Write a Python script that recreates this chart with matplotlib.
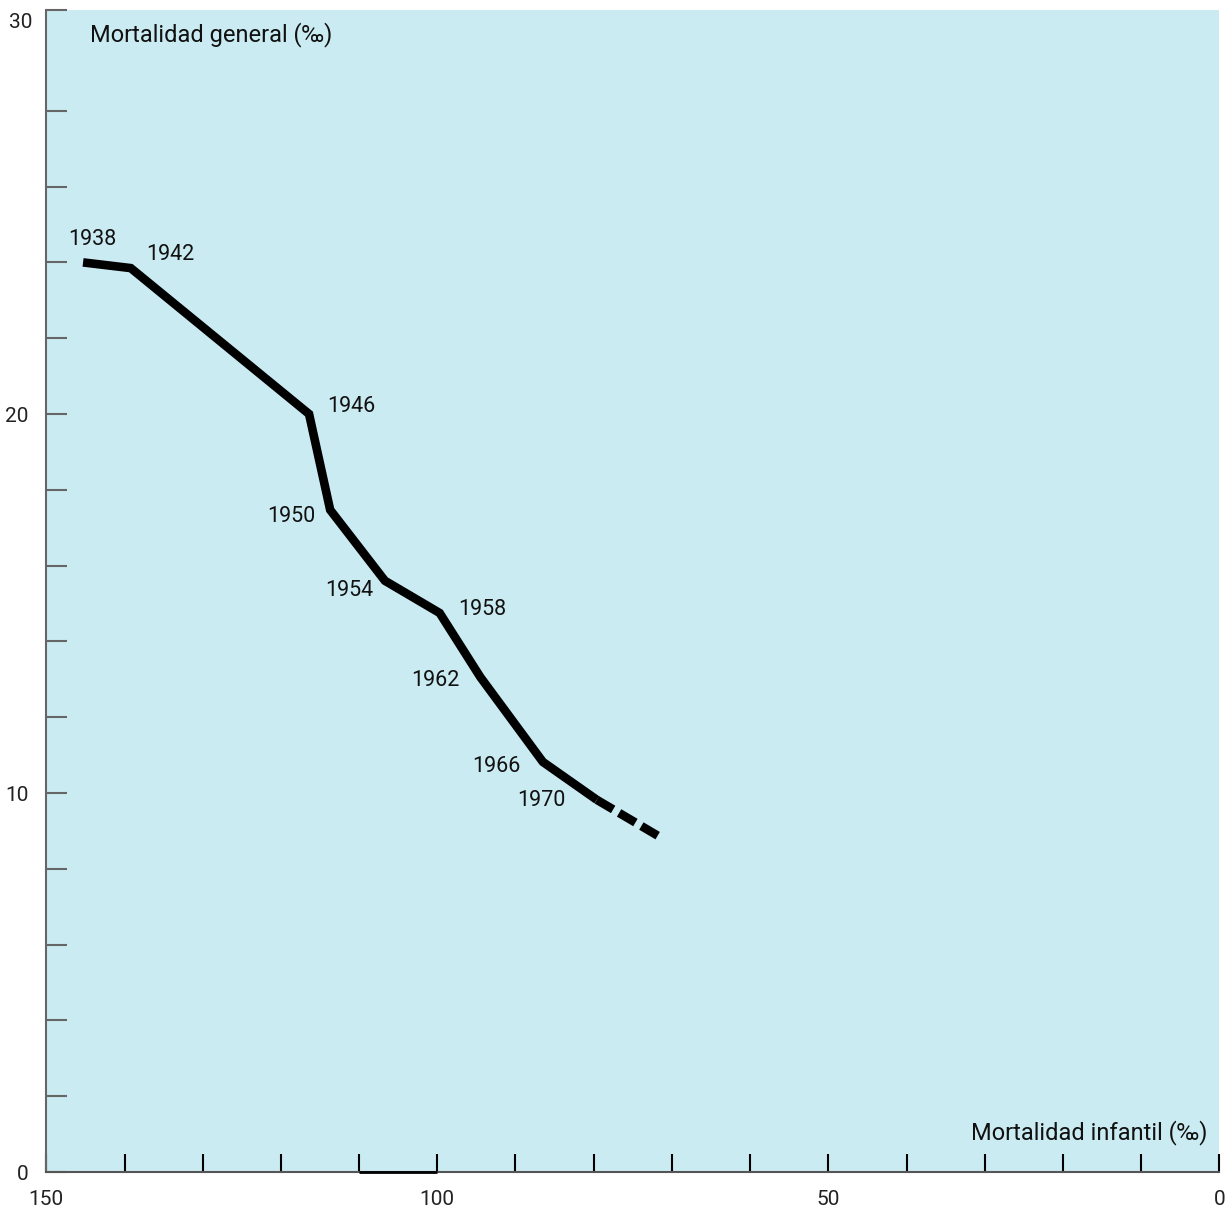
import numpy as np
import matplotlib.pyplot as plt

# datos
anios = ['1938', '1942', '1946', '1950', '1954', '1958', '1962', '1966', '1970']
mort_infantil = [145.3, 139.2, 116.4, 113.7, 106.7, 99.7, 94.5, 86.5, 79.6]
mort_general = [24.0, 23.85, 20.0, 17.47, 15.6, 14.75, 13.06, 10.82, 9.82]
# tramo proyectado (discontinuo)
proy_infantil = [79.6, 71.2]
proy_general = [9.82, 8.8]
# posicion de las etiquetas de anio
etiq_x = [144.1, 134.2, 111.0, 118.7, 111.3, 94.3, 100.2, 92.5, 86.7]
etiq_y = [24.6, 24.2, 20.2, 17.3, 15.33, 14.83, 12.98, 10.71, 9.79]

fondo = '#cbebf2'
plt.rcParams['font.family'] = ['Roboto', 'DejaVu Sans']

W, H = 1228, 1207
fig = plt.figure(figsize=(W / 100, H / 100), dpi=100)
ax = fig.add_axes([46.3 / W, (H - 1172) / H, (1219.3 - 46.3) / W, (1172 - 10) / H])
ax.set_facecolor(fondo)

ytop = 30.66
ax.set_xlim(150, 0)
ax.set_ylim(0, ytop)

ax.plot(mort_infantil, mort_general, color='black', lw=6.2,
        solid_joinstyle='miter', solid_capstyle='butt')
ax.plot(proy_infantil, proy_general, color='black', lw=6.2,
        dashes=[2.2, 0.8], dash_capstyle='butt')

for t, x, y in zip(anios, etiq_x, etiq_y):
    ax.text(x, y, t, fontsize=15.5, ha='center', va='center', color='#111')

# ejes
for s in ['top', 'right']:
    ax.spines[s].set_visible(False)
ax.spines['left'].set_color('#666')
ax.spines['bottom'].set_color('#555')
ax.spines['left'].set_linewidth(1.5)
ax.spines['bottom'].set_linewidth(1.5)
ax.plot([110, 100], [0, 0], color='black', lw=2.0, clip_on=False,
        solid_capstyle='butt', zorder=5)

xt = np.arange(150, -1, -10)
ax.set_xticks(xt)
ax.set_xticklabels([str(v) if v % 50 == 0 else '' for v in xt])
ax.tick_params(axis='x', direction='in', length=13, width=1.5, color='black',
               pad=13, labelsize=15, labelcolor='#222')

yt = list(np.arange(0, 29, 2)) + [ytop]
ax.set_yticks(yt)
ax.set_yticklabels(['0' if v == 0 else '10' if v == 10 else '20' if v == 20 else ''
                    for v in yt])
ax.tick_params(axis='y', direction='in', length=15, width=1.5, color='#666',
               pad=13, labelsize=15, labelcolor='#222')
ax.text(-0.0115, 30.34, '30', transform=ax.get_yaxis_transform(),
        ha='right', va='center', fontsize=15, color='#222')

ax.text(0.037, 0.979, 'Mortalidad general (‰)', transform=ax.transAxes,
        ha='left', va='center', fontsize=17, color='#111')
ax.text(0.99, 0.034, 'Mortalidad infantil (‰)', transform=ax.transAxes,
        ha='right', va='center', fontsize=17, color='#111')

fig.savefig('out.png', dpi=100, facecolor='white')
